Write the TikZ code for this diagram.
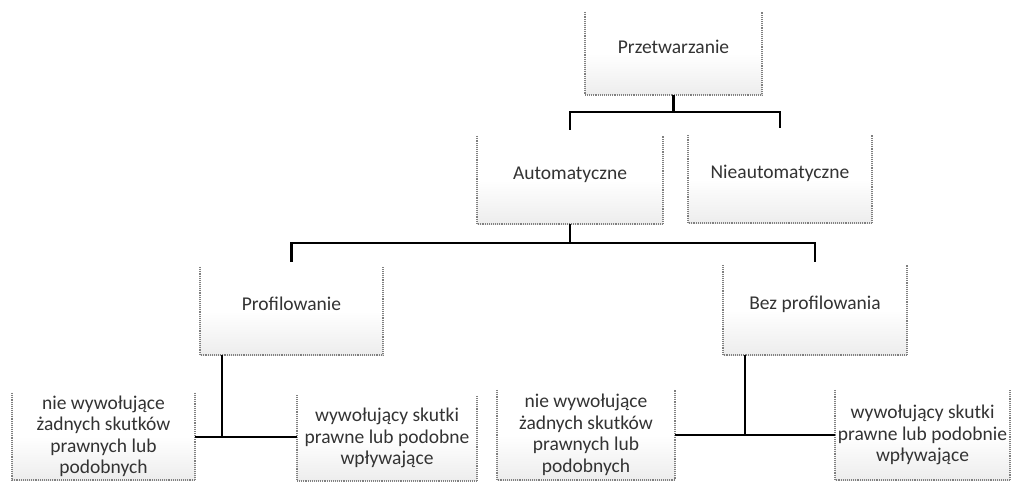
\documentclass[tikz,border=0pt]{standalone}
\usepackage{fontspec}
\setmainfont{Carlito}
\usetikzlibrary{calc}
\pgfdeclareverticalshading{blokcien}{100bp}{color(0bp)=(black!15); color(8bp)=(black!12); color(50bp)=(white); color(100bp)=(white)}

\begin{document}
\begin{tikzpicture}[x=1pt,y=-1pt,
  blok/.style={minimum width=#1, minimum height=88pt, inner sep=2pt, align=center,
    shading=blokcien, text=black!80, font=\fontsize{19.5}{21.5}\selectfont},
  jeden/.style={text depth=14pt},
  obrys/.style={draw=black!50, line width=2pt, dash pattern=on 0.8pt off 1.1pt},
  lacz/.style={black, line width=2.2pt}]
\useasboundingbox (0,0) rectangle (1012,484);
\node[blok=177pt, minimum height=83pt, jeden] (prz) at (673.5,53.5) {Przetwarzanie};
\node[blok=186pt, jeden] (aut) at (570,180) {Automatyczne};
\node[blok=184pt, jeden] (nieaut) at (780,179) {Nieautomatyczne};
\node[blok=183pt, jeden] (prof) at (291.5,311) {Profilowanie};
\node[blok=184pt, minimum height=90pt, jeden] (bez) at (815,310) {Bez profilowania};
\node[blok=183pt, minimum height=87pt] (nw1) at (103.5,436.5) {nie wywołujące\\żadnych skutków\\prawnych lub\\podobnych};
\node[blok=180pt, minimum height=85pt] (w1) at (387,438) {wywołujący skutki\\prawne lub podobne\\wpływające};
\node[blok=178pt, minimum height=90pt] (nw2) at (586,435) {nie wywołujące\\żadnych skutków\\prawnych lub\\podobnych};
\node[blok=175pt, minimum height=90pt] (w2) at (922.5,435) {wywołujący skutki\\prawne lub podobnie\\wpływające};
% obrys blokow
\foreach \n in {prz,aut,nieaut,prof,bez,nw1,w1,nw2,w2}
  \draw[obrys] (\n.north west) -- (\n.south west) -- (\n.south east) -- (\n.north east);
% polaczenia
\draw[lacz] (prz.south) -- ++(0,17) coordinate (h1);
\draw[lacz, shorten >=6pt] (h1) -| (aut.north);
\draw[lacz, shorten >=7pt] (h1) -| (nieaut.north);
\draw[lacz] (aut.south) -- ++(0,19) coordinate (h2);
\draw[lacz, shorten >=5pt] (h2) -| (prof.north);
\draw[lacz, shorten >=3pt] (h2) -| (bez.north);
\coordinate (k1) at (222,437);
\coordinate (k2) at (745,435);
\draw[lacz] (prof.south -| k1) -- (k1);
\draw[lacz] (nw1.east |- k1) -- (w1.west |- k1);
\draw[lacz] (bez.south -| k2) -- (k2);
\draw[lacz] (nw2.east |- k2) -- (w2.west |- k2);
\end{tikzpicture}
\end{document}
